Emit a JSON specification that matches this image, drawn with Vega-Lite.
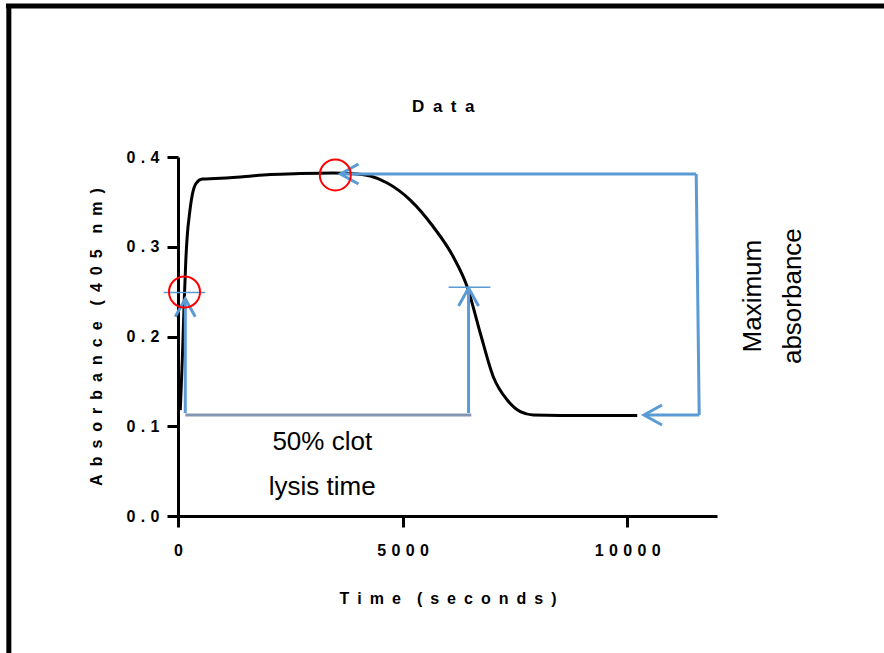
{
  "$schema": "https://vega.github.io/schema/vega-lite/v6.json",
  "width": 539,
  "height": 359,
  "autosize": {"type": "none"},
  "padding": {"left": 178, "top": 157, "right": 167, "bottom": 137},
  "background": "white",
  "config": {
    "view": {"stroke": null},
    "font": "Liberation Sans",
    "axis": {"grid": false}
  },
  "datasets": {
    "curve": [
      {"t": 51, "a": 0.118},
      {"t": 96, "a": 0.174},
      {"t": 140, "a": 0.241},
      {"t": 174, "a": 0.285},
      {"t": 207, "a": 0.313},
      {"t": 252, "a": 0.335},
      {"t": 318, "a": 0.358},
      {"t": 407, "a": 0.371},
      {"t": 541, "a": 0.3755},
      {"t": 830, "a": 0.376},
      {"t": 1387, "a": 0.3777},
      {"t": 2055, "a": 0.3805},
      {"t": 2723, "a": 0.3816},
      {"t": 3458, "a": 0.3822},
      {"t": 3836, "a": 0.3816},
      {"t": 4281, "a": 0.3788},
      {"t": 4659, "a": 0.371},
      {"t": 5171, "a": 0.352},
      {"t": 5683, "a": 0.3223},
      {"t": 6128, "a": 0.2889},
      {"t": 6440, "a": 0.2552},
      {"t": 6729, "a": 0.2039},
      {"t": 7019, "a": 0.1552},
      {"t": 7330, "a": 0.1292},
      {"t": 7620, "a": 0.1162},
      {"t": 7910, "a": 0.1125},
      {"t": 8511, "a": 0.112},
      {"t": 9401, "a": 0.112},
      {"t": 10224, "a": 0.112}
    ],
    "blueLines": [
      {"t": 162, "a": 0.1148, "t2": 162, "a2": 0.242},
      {"t": 6469, "a": 0.1148, "t2": 6469, "a2": 0.254},
      {"t": 3617, "a": 0.381, "t2": 11537, "a2": 0.381},
      {"t": 11537, "a": 0.381, "t2": 11604, "a2": 0.1125},
      {"t": 10374, "a": 0.1125, "t2": 11604, "a2": 0.1125}
    ],
    "thinLines": [
      {"t": -320, "a": 0.249, "t2": 608, "a2": 0.249},
      {"t": 6024, "a": 0.2548, "t2": 6955, "a2": 0.2548}
    ],
    "grayLine": [
      {"t": 163, "a": 0.1125, "t2": 6530, "a2": 0.1125}
    ],
    "upArrows": [
      {"t": 162, "a": 0.242},
      {"t": 6469, "a": 0.254}
    ],
    "leftArrows": [
      {"t": 3617, "a": 0.381},
      {"t": 10374, "a": 0.1125}
    ],
    "circles": [
      {"t": 145, "a": 0.2496},
      {"t": 3502, "a": 0.38}
    ],
    "labels": [
      {"t": 3212, "a": 0.083, "label": "50% clot"},
      {"t": 3212, "a": 0.032, "label": "lysis time"}
    ],
    "sideLabels": [
      {"t": 12811, "a": 0.245, "label": "Maximum"},
      {"t": 13700, "a": 0.245, "label": "absorbance"}
    ],
    "titleText": [
      {"t": 5906, "a": 0.4557, "label": "D\u2002a\u2002t\u2002a"}
    ],
    "frame": [
      {"t": -3830, "a": 0.5682, "t2": 16000, "a2": 0.5682},
      {"t": -3766, "a": 0.57, "t2": -3766, "a2": -0.17}
    ]
  },
  "encoding": {
    "x": {
      "field": "t",
      "type": "quantitative",
      "scale": {"domain": [0, 12000], "nice": false, "zero": false},
      "axis": {
        "values": [0, 5000, 10000],
        "labelExpr": "join(split(format(datum.value, 'd'), ''), '\u2004')",
        "labelFlush": false,
        "labelFont": "Liberation Sans",
        "labelFontSize": 16,
        "labelFontWeight": "bold",
        "labelColor": "black",
        "labelPadding": 15,
        "tickSize": 11,
        "tickWidth": 3,
        "tickColor": "black",
        "domainWidth": 3,
        "domainColor": "black",
        "title": "T\u2002i\u2002m\u2002e\u2002\u2002(\u2002s\u2002e\u2002c\u2002o\u2002n\u2002d\u2002s\u2002)",
        "titleFont": "Liberation Sans",
        "titleFontSize": 16,
        "titleFontWeight": "bold",
        "titleColor": "black",
        "titlePadding": 32
      }
    },
    "y": {
      "field": "a",
      "type": "quantitative",
      "scale": {"domain": [0, 0.4], "nice": false, "zero": false},
      "axis": {
        "values": [0, 0.1, 0.2, 0.3, 0.4],
        "labelExpr": "join(split(format(datum.value, '.1f'), ''), '\u2004')",
        "labelFlush": false,
        "labelFont": "Liberation Sans",
        "labelFontSize": 16,
        "labelFontWeight": "bold",
        "labelColor": "black",
        "labelPadding": 8,
        "tickSize": 11,
        "tickWidth": 3,
        "tickColor": "black",
        "domainWidth": 3,
        "domainColor": "black",
        "title": "A\u2002b\u2002s\u2002o\u2002r\u2002b\u2002a\u2002n\u2002c\u2002e\u2002\u2002(\u20024\u20020\u20025\u2002\u2002n\u2002m\u2002)",
        "titleFont": "Liberation Sans",
        "titleFontSize": 16,
        "titleFontWeight": "bold",
        "titleColor": "black",
        "titlePadding": 22
      }
    }
  },
  "layer": [
    {
      "data": {"name": "frame"},
      "mark": {"type": "rule", "color": "black", "strokeWidth": 5},
      "encoding": {"x2": {"field": "t2"}, "y2": {"field": "a2"}}
    },
    {
      "data": {"name": "curve"},
      "mark": {"type": "line", "color": "black", "strokeWidth": 3, "interpolate": "monotone"},
      "encoding": {}
    },
    {
      "data": {"name": "grayLine"},
      "mark": {"type": "rule", "color": "#8497B0", "strokeWidth": 3},
      "encoding": {"x2": {"field": "t2"}, "y2": {"field": "a2"}}
    },
    {
      "data": {"name": "blueLines"},
      "mark": {"type": "rule", "color": "#5B9BD5", "strokeWidth": 3},
      "encoding": {"x2": {"field": "t2"}, "y2": {"field": "a2"}}
    },
    {
      "data": {"name": "thinLines"},
      "mark": {"type": "rule", "color": "#5B9BD5", "strokeWidth": 1.5},
      "encoding": {"x2": {"field": "t2"}, "y2": {"field": "a2"}}
    },
    {
      "data": {"name": "upArrows"},
      "mark": {"type": "point", "shape": "M-1,1.8L0,0L1,1.8", "size": 400, "filled": false, "stroke": "#5B9BD5", "strokeWidth": 3, "opacity": 1, "strokeJoin": "miter"}
    },
    {
      "data": {"name": "leftArrows"},
      "mark": {"type": "point", "shape": "M1.8,-1L0,0L1.8,1", "size": 400, "filled": false, "stroke": "#5B9BD5", "strokeWidth": 3, "opacity": 1, "strokeJoin": "miter"}
    },
    {
      "data": {"name": "circles"},
      "mark": {"type": "point", "shape": "circle", "size": 961, "filled": false, "stroke": "#FF0000", "strokeWidth": 2, "opacity": 1}
    },
    {
      "data": {"name": "labels"},
      "mark": {"type": "text", "fontSize": 26, "font": "Liberation Sans", "color": "black", "align": "center", "baseline": "middle"},
      "encoding": {"text": {"field": "label"}}
    },
    {
      "data": {"name": "sideLabels"},
      "mark": {"type": "text", "fontSize": 26, "font": "Liberation Sans", "color": "black", "align": "center", "baseline": "middle", "angle": 270},
      "encoding": {"text": {"field": "label"}}
    },
    {
      "data": {"name": "titleText"},
      "mark": {"type": "text", "fontSize": 17, "fontWeight": "bold", "font": "Liberation Sans", "color": "black", "align": "center", "baseline": "middle"},
      "encoding": {"text": {"field": "label"}}
    }
  ]
}
